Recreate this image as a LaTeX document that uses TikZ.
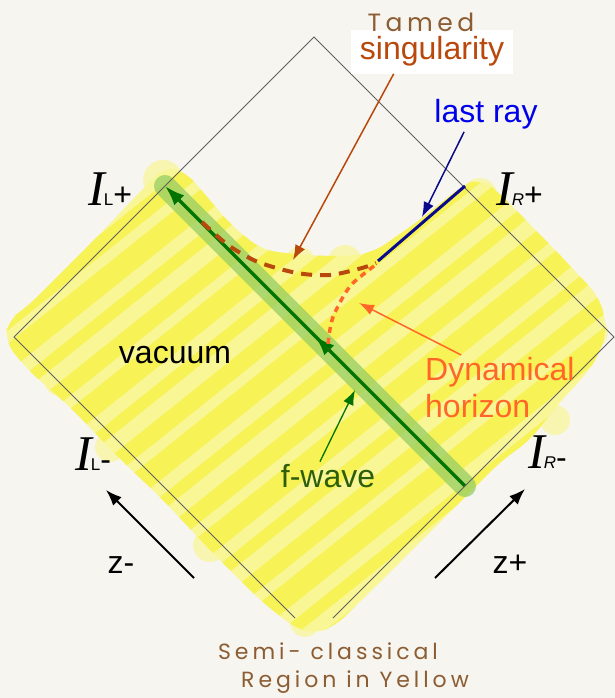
\documentclass[tikz,border=0pt]{standalone}
\usepackage{fontspec}
\setsansfont{Liberation Sans}
\newfontfamily\scrifont{Liberation Serif}
\newfontfamily\handfont{Poppins}[LetterSpace=18]
\usetikzlibrary{arrows.meta}
\usetikzlibrary{decorations.markings, math}
\definecolor{paper}{RGB}{247,245,240}
\definecolor{hlight}{RGB}{249,246,150}
\definecolor{hbright}{RGB}{247,241,70}
\definecolor{frame}{RGB}{95,95,95}
\definecolor{fwband}{RGB}{150,205,100}
\definecolor{fwgreen}{RGB}{0,115,0}
\definecolor{fwdark}{RGB}{45,95,10}
\definecolor{singbrown}{RGB}{185,72,12}
\definecolor{dynorange}{RGB}{255,102,40}
\definecolor{raynavy}{RGB}{10,10,140}
\definecolor{rayblue}{RGB}{0,0,235}
\definecolor{inkbrown}{RGB}{140,92,50}
\newcommand{\semiregion}{(150,182) -- (165,166) -- (186,172) -- (208,198) -- (232,226) -- (262,250) -- (292,254) -- (322,256) -- (352,256) -- (374,252) -- (420,220) -- (462,186) -- (480,178) -- (496,190) -- (512,206) -- (560,255) -- (600,298) -- (607,330) -- (600,352) -- (588,372) -- (560,402) -- (530,440) -- (500,462) -- (470,492) -- (420,542) -- (370,592) -- (335,626) -- (315,634) -- (295,628) -- (260,600) -- (210,550) -- (160,497) -- (118,457) -- (70,407) -- (28,370) -- (5,342) -- (8,320) -- (26,308) -- (60,274) -- (100,234) -- (138,194) -- cycle}

\begin{document}
\begin{tikzpicture}[x=1pt,y=-1pt,
  lbl/.style={font=\sffamily\fontsize{32}{37}\selectfont, inner sep=2pt},
  hand/.style={font=\handfont\fontsize{22}{26}\selectfont, color=inkbrown},
  scri/.style={anchor=base west, inner sep=0pt},
  pointer/.style={line width = 1.5pt, -{Latex[length=15pt,width=11pt]}},
]
\tikzmath{
\stripgap=48;
\Nstrip=25;
}

%paper
\fill[color=paper] (0,0) rectangle (615,698);
\useasboundingbox (0,0) rectangle (615,698);

%yellow region
\fill[color=hlight, rounded corners=14pt] \semiregion;
\foreach \bx/\by/\br in {35/330/20, 163/180/20, 300/262/15, 345/262/17, 480/195/17, 590/332/18, 555/420/15, 305/622/15, 210/545/17, 110/447/15, 60/380/16}{
  \fill[color=hlight, opacity=0.7] (\bx,\by) circle(\br);
}
\begin{scope}
  \clip[rounded corners=14pt] \semiregion;
  \foreach \k in {0,...,\Nstrip}{
    \pgfmathsetmacro{\lw}{12+5*mod(\k,3)}
    \draw[color=hbright, line width = \lw pt, line cap=round, opacity=0.8] (\k*\stripgap-660,700) -- (\k*\stripgap+215,0);
  }
\end{scope}

%f-wave
\coordinate (fwend) at (465,486);
\coordinate (fwstart) at (165,186);
\draw[color=fwband, line width = 22pt, line cap=round, opacity=0.75] (fwend) -- (fwstart);
\draw[color=fwgreen, line width = 3.5pt, -{Latex[length=20pt,width=14pt]},
  postaction=decorate, decoration={markings, mark=at position 0.5 with {\arrow{Latex[length=20pt,width=14pt]}}}]
  (fwend) -- (fwstart);

%diamond
\coordinate (top) at (314,37);
\coordinate (left) at (14,337);
\coordinate (right) at (614,337);
\coordinate (botl) at (295,618);
\coordinate (botr) at (333,618);
\draw[color=frame, line width = 0.8pt] (botl) -- (left) -- (top) -- (right) -- (botr);

%last ray
\coordinate (lr1) at (465,186);
\coordinate (lr2) at (378,261);
\draw[color=raynavy, line width = 3pt] (lr1) -- (lr2);

%singularity and horizon
\draw[color=singbrown, line width = 4pt, dash pattern=on 11pt off 8pt]
  plot[smooth] coordinates {(202,222) (228,245) (258,262) (297,273) (330,275) (362,268) (376,263)};
\draw[color=dynorange, line width = 3.5pt, dash pattern=on 6pt off 5pt]
  plot[smooth] coordinates {(374,266) (353,283) (343,297) (333,317) (329,335) (328,349)};

%labels
\node[lbl, color=singbrown, fill=white, inner xsep=9pt, inner ysep=7pt, anchor=base] (sing) at (432,60) {singularity};
\node[hand, font=\handfont\fontsize{25}{28}\selectfont] (tamed) at (421,22) {Tamed};
\node[lbl, color=rayblue, anchor=base] (lastray) at (486,123) {last ray};
\node[lbl, color=dynorange, align=left, anchor=north west] (dyn) at (423,355) {Dynamical\\horizon};
\node[lbl, anchor=base] (vacuum) at (175,363) {vacuum};
\node[lbl, color=fwdark, anchor=base] (fwave) at (328,487) {f-wave};
\node[lbl, anchor=base] (zminus) at (121,573) {z-};
\node[lbl, anchor=base] (zplus) at (510,573) {z+};

\node[scri] (ilplus) at (88,205) {\scrifont\itshape\fontsize{50}{54}\selectfont I\kern-1pt\sffamily\upshape\fontsize{17}{20}\selectfont L\fontsize{32}{36}\selectfont+};
\node[scri] (irplus) at (496,205) {\scrifont\itshape\fontsize{50}{54}\selectfont I\kern-1pt\sffamily\fontsize{17}{20}\selectfont R\upshape\fontsize{32}{36}\selectfont+};
\node[scri] (ilminus) at (75,470) {\scrifont\itshape\fontsize{50}{54}\selectfont I\kern-1pt\sffamily\upshape\fontsize{17}{20}\selectfont L\fontsize{32}{36}\selectfont-};
\node[scri] (irminus) at (528,468) {\scrifont\itshape\fontsize{50}{54}\selectfont I\kern-1pt\sffamily\fontsize{17}{20}\selectfont R\upshape\fontsize{32}{36}\selectfont-};

\node[hand] (semi) at (328,651) {Semi- classical};
\node[hand] (region) at (355,682) {Region in Yellow};

%pointers
\coordinate (singtip) at (293,260);
\coordinate (raytip) at (422,217);
\coordinate (dyntip) at (359,303);
\coordinate (fwtip) at (355,390);
\draw[pointer, color=singbrown] (sing.210) -- (singtip);
\draw[pointer, color=raynavy] (lastray.218) -- (raytip);
\draw[pointer, color=dynorange] (dyn.140) -- (dyntip);
\draw[pointer, color=fwgreen, line width = 1.3pt] (fwave.120) -- (fwtip);

%z arrows
\coordinate (zmtail) at (194,578);
\coordinate (zmhead) at (106,490);
\coordinate (zptail) at (435,578);
\coordinate (zphead) at (525,489);
\draw[color=black, line width = 2pt, -{Latex[length=16pt,width=12pt]}] (zmtail) -- (zmhead);
\draw[color=black, line width = 2pt, -{Latex[length=16pt,width=12pt]}] (zptail) -- (zphead);

\end{tikzpicture}
\end{document}
